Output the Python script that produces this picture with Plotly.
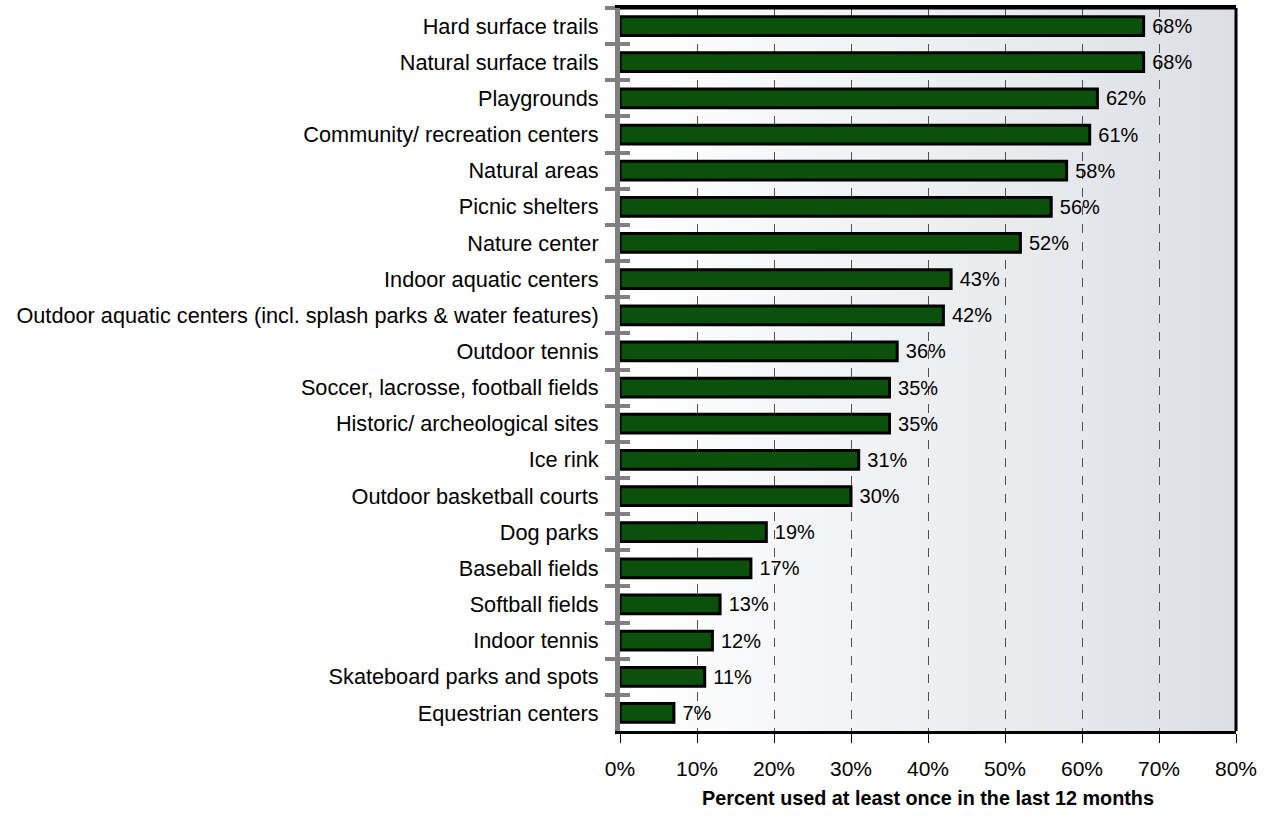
import plotly.graph_objects as go

categories = [
    "Hard surface trails", "Natural surface trails", "Playgrounds",
    "Community/ recreation centers", "Natural areas", "Picnic shelters",
    "Nature center", "Indoor aquatic centers",
    "Outdoor aquatic centers (incl. splash parks & water features)",
    "Outdoor tennis", "Soccer, lacrosse, football fields",
    "Historic/ archeological sites", "Ice rink", "Outdoor basketball courts",
    "Dog parks", "Baseball fields", "Softball fields", "Indoor tennis",
    "Skateboard parks and spots", "Equestrian centers",
]
values = [68, 68, 62, 61, 58, 56, 52, 43, 42, 36, 35, 35, 31, 30, 19, 17, 13, 12, 11, 7]
tick_vals = [0, 10, 20, 30, 40, 50, 60, 70, 80]
tick_text = ["0%", "10%", "20%", "30%", "40%", "50%", "60%", "70%", "80%"]
x_title = "Percent used at least once in the last 12 months"

FONT = "Liberation Sans, Arial, sans-serif"

fig = go.Figure()
fig.add_trace(go.Bar(
    x=values, y=categories, orientation="h",
    marker=dict(color="#0b500b", line=dict(color="#000000", width=3)),
    width=0.52,
    text=[f"\u00a0{v}%" for v in values], textposition="outside",
    constraintext="none",
    textfont=dict(family=FONT, size=20, color="#000"),
    cliponaxis=False, hoverinfo="skip",
))
# invisible trace to drive the inside tick axis
fig.add_trace(go.Bar(
    x=values, y=categories, orientation="h", yaxis="y2",
    marker=dict(color="rgba(0,0,0,0)", line=dict(width=0)), width=0.52,
    hoverinfo="skip", showlegend=False,
))

# horizontal gradient background
shapes = []
n = 80
c0 = (255, 255, 255)
c1 = (220, 223, 229)
for i in range(n):
    t = i / (n - 1)
    c = tuple(round(c0[k] + (c1[k] - c0[k]) * t) for k in range(3))
    shapes.append(dict(type="rect", xref="paper", yref="paper",
                       x0=i / n, x1=(i + 1) / n + 0.002, y0=0, y1=1,
                       fillcolor=f"rgb{c}", line=dict(width=0), layer="below"))
# right and top border
shapes.append(dict(type="line", xref="paper", yref="paper", x0=1, x1=1, y0=0, y1=1,
                   line=dict(color="#000", width=3), layer="above"))
shapes.append(dict(type="line", xref="paper", yref="paper", x0=0, x1=1, y0=1, y1=1,
                   line=dict(color="#000", width=3), layer="above"))

fig.update_layout(
    width=1276, height=816,
    margin=dict(l=620, r=40, t=8, b=85, autoexpand=False),
    paper_bgcolor="#ffffff", plot_bgcolor="#ffffff",
    showlegend=False, bargap=0.48,
    shapes=shapes,
    font=dict(family=FONT, color="#000"),
    xaxis=dict(
        range=[0, 80], tickvals=tick_vals, ticktext=tick_text,
        tickfont=dict(family=FONT, size=21),
        showgrid=True, gridcolor="#505050", griddash="dash", gridwidth=1,
        showline=True, linecolor="#000", linewidth=3, mirror=True,
        ticks="outside", ticklen=9, tickcolor="#000", tickwidth=1,
        zeroline=False, ticklabelstandoff=8, automargin=False,
        title=dict(text=f"<b>{x_title}</b>", font=dict(family=FONT, size=19.8), standoff=12),
    ),
    yaxis=dict(
        categoryorder="array", categoryarray=categories, autorange="reversed",
        tickson="boundaries", ticks="outside", ticklen=10, tickwidth=4,
        tickcolor="#808080", showline=True, linecolor="#808080", linewidth=5,
        tickfont=dict(family=FONT, size=21.7), ticklabelstandoff=12,
        showgrid=False, zeroline=False, automargin=False,
    ),
    yaxis2=dict(
        overlaying="y", side="left", matches="y",
        categoryorder="array", categoryarray=categories, autorange="reversed",
        tickson="boundaries", ticks="inside", ticklen=10, tickwidth=4,
        tickcolor="#808080", showticklabels=False, showline=False,
        showgrid=False, zeroline=False, automargin=False,
    ),
)

fig.write_html("out.html", config={"displayModeBar": False},
               post_script="document.body.style.margin='0';")
